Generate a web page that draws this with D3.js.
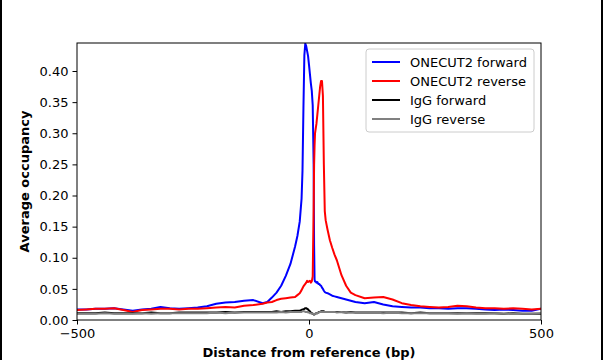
<!DOCTYPE html>
<html><head><meta charset="utf-8">
<script src="https://cdn.jsdelivr.net/npm/d3@7"></script>
<style>body{margin:0;background:#fff}svg{display:block}text{font-family:"DejaVu Sans",sans-serif}</style>
</head><body><svg id="c" width="603" height="360"></svg>
<script>
const positions = [-500,-480,-460,-440,-420,-400,-380,-360,-340,-320,-300,-280,-260,-240,-220,-200,-180,-160,-140,-120,-100,-90,-80,-70,-60,-50,-40,-30,-25,-20,-16,-14,-12,-10,-8,-6,-4,-2,0,2,4,6,8,10,11,12,13,14,16,18,20,22,24,26,28,30,32,34,36,40,45,50,55,60,70,80,90,100,120,140,160,180,200,220,240,260,280,300,320,340,360,380,400,420,440,460,480,500];
const onecutForward = [0.017,0.017,0.018,0.018,0.019,0.017,0.015,0.017,0.018,0.021,0.019,0.018,0.019,0.020,0.022,0.026,0.028,0.029,0.031,0.032,0.027,0.029,0.036,0.044,0.055,0.071,0.090,0.118,0.135,0.158,0.195,0.240,0.340,0.425,0.444,0.440,0.432,0.424,0.410,0.395,0.380,0.368,0.345,0.250,0.120,0.065,0.062,0.062,0.060,0.061,0.058,0.058,0.056,0.055,0.052,0.050,0.047,0.045,0.044,0.043,0.041,0.039,0.038,0.037,0.035,0.033,0.031,0.029,0.027,0.029,0.025,0.022,0.021,0.020,0.020,0.019,0.019,0.018,0.019,0.019,0.018,0.017,0.016,0.017,0.016,0.015,0.015,0.018];
const onecutReverse = [0.016,0.017,0.018,0.018,0.019,0.016,0.013,0.016,0.017,0.018,0.018,0.017,0.018,0.018,0.019,0.020,0.021,0.020,0.023,0.024,0.026,0.028,0.029,0.032,0.034,0.035,0.036,0.037,0.040,0.043,0.048,0.051,0.054,0.056,0.058,0.060,0.063,0.061,0.062,0.063,0.060,0.062,0.070,0.180,0.250,0.280,0.300,0.305,0.315,0.330,0.345,0.360,0.375,0.384,0.384,0.360,0.250,0.175,0.160,0.145,0.128,0.116,0.105,0.096,0.072,0.055,0.044,0.040,0.035,0.036,0.037,0.033,0.027,0.024,0.022,0.021,0.020,0.021,0.023,0.022,0.020,0.019,0.019,0.018,0.019,0.018,0.017,0.018];
const iggForward = [0.011,0.011,0.011,0.012,0.011,0.011,0.011,0.011,0.012,0.011,0.011,0.012,0.012,0.012,0.012,0.012,0.013,0.012,0.013,0.013,0.013,0.013,0.013,0.014,0.013,0.014,0.014,0.015,0.015,0.015,0.016,0.017,0.017,0.018,0.019,0.019,0.018,0.017,0.015,0.014,0.012,0.011,0.010,0.009,0.009,0.009,0.010,0.010,0.011,0.011,0.012,0.013,0.013,0.014,0.014,0.014,0.014,0.013,0.013,0.013,0.013,0.013,0.013,0.013,0.013,0.012,0.013,0.012,0.012,0.012,0.012,0.012,0.012,0.011,0.012,0.011,0.011,0.011,0.011,0.011,0.011,0.011,0.011,0.010,0.011,0.010,0.010,0.010];
const iggReverse = [0.010,0.010,0.010,0.011,0.010,0.010,0.010,0.011,0.010,0.011,0.011,0.011,0.011,0.011,0.011,0.012,0.011,0.012,0.012,0.012,0.012,0.012,0.012,0.012,0.013,0.012,0.013,0.013,0.013,0.013,0.013,0.014,0.014,0.014,0.013,0.013,0.013,0.012,0.012,0.011,0.011,0.010,0.010,0.010,0.009,0.009,0.010,0.010,0.011,0.011,0.012,0.012,0.013,0.013,0.013,0.013,0.013,0.013,0.013,0.013,0.013,0.013,0.013,0.012,0.013,0.012,0.012,0.012,0.012,0.012,0.011,0.012,0.011,0.011,0.011,0.011,0.011,0.011,0.010,0.011,0.010,0.010,0.011,0.010,0.010,0.010,0.010,0.011];
const seriesNames = ["ONECUT2 forward","ONECUT2 reverse","IgG forward","IgG reverse"];
const seriesColors = ["#0000ff","#ff0000","#000000","#808080"];
const seriesValues = [onecutForward, onecutReverse, iggForward, iggReverse];
const xTicks = [-500, 0, 500];
const yTicks = [0,0.05,0.10,0.15,0.20,0.25,0.30,0.35,0.40];

const svg = d3.select("#c");
const L = 77, R = 541, T = 43, B = 320;
const x = d3.scaleLinear().domain([-500,500]).range([L,R]);
const y = d3.scaleLinear().domain([0,0.445]).range([B,T]);

svg.append("rect").attr("x",0).attr("y",0).attr("width",2).attr("height",360).attr("fill","#000");
svg.append("rect").attr("x",601).attr("y",0).attr("width",2).attr("height",360).attr("fill","#000");

svg.append("defs").append("clipPath").attr("id","clip").append("rect")
  .attr("x",L).attr("y",T).attr("width",R-L).attr("height",B-T);

const line = d3.line().x((d,i)=>x(positions[i])).y(d=>y(d));
const g = svg.append("g").attr("clip-path","url(#clip)");
seriesValues.forEach((vals,k)=>{
  g.append("path").attr("d",line(vals)).attr("fill","none")
   .attr("stroke",seriesColors[k]).attr("stroke-width",2).attr("stroke-linejoin","round");
});

// frame
svg.append("rect").attr("x",L).attr("y",T).attr("width",R-L).attr("height",B-T)
  .attr("fill","none").attr("stroke","#000").attr("stroke-width",1);

const fmtX = d => d < 0 ? "\u2212" + Math.abs(d) : String(d);
const xa = svg.append("g").attr("transform",`translate(0,${B})`)
  .call(d3.axisBottom(x).tickValues(xTicks).tickFormat(fmtX).tickSizeOuter(0).tickSize(4.5).tickPadding(4));
const ya = svg.append("g").attr("transform",`translate(${L},0)`)
  .call(d3.axisLeft(y).tickValues(yTicks).tickFormat(d3.format(".2f")).tickSizeOuter(0).tickSize(4.5).tickPadding(4));
[xa,ya].forEach(a=>{
  a.select(".domain").remove();
  a.selectAll("text").attr("font-size",13).attr("font-family","DejaVu Sans").attr("fill","#000");
  a.selectAll("line").attr("stroke","#000");
});

svg.append("text").attr("x",(L+R)/2).attr("y",357).attr("text-anchor","middle")
  .attr("font-size",13).attr("font-weight","bold").text("Distance from reference (bp)");
svg.append("text").attr("transform",`translate(29,${(T+B)/2}) rotate(-90)`).attr("text-anchor","middle")
  .attr("font-size",13).attr("font-weight","bold").text("Average occupancy");

// legend
const lg = svg.append("g");
lg.append("rect").attr("x",366).attr("y",49).attr("width",168).attr("height",83).attr("rx",3)
  .attr("fill","#fff").attr("fill-opacity",0.8).attr("stroke","#cccccc").attr("stroke-width",1);
seriesNames.forEach((n,k)=>{
  const yy = 62 + k*19;
  lg.append("line").attr("x1",372).attr("x2",400).attr("y1",yy).attr("y2",yy)
    .attr("stroke",seriesColors[k]).attr("stroke-width",2);
  lg.append("text").attr("x",410).attr("y",yy).attr("dy","0.36em").attr("font-size",13).text(n);
});
</script></body></html>
